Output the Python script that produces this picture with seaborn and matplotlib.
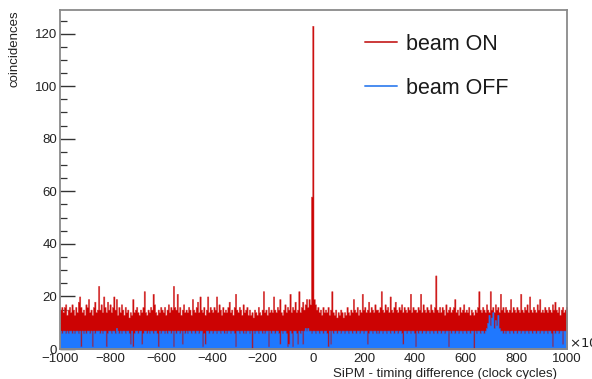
import numpy as np
import pandas as pd
import matplotlib
matplotlib.use("Agg")
import matplotlib.pyplot as plt
import seaborn as sns
from matplotlib.lines import Line2D
from matplotlib.ticker import MultipleLocator

# ---- data: counts per 5-clock-cycle bin from -1000 to 1000 (400 bins) ----
bin_start, bin_stop, bin_width = -1000, 1000, 5

beam_on = [
    15, 16, 14, 16, 17, 13, 15, 16, 14, 17,
    15, 13, 16, 14, 18, 20, 16, 14, 15, 13,
    17, 16, 19, 14, 15, 13, 16, 18, 14, 15,
    24, 15, 17, 14, 20, 16, 14, 18, 15, 17,
    14, 16, 20, 15, 19, 13, 16, 14, 17, 15,
    13, 16, 14, 15, 12, 14, 13, 19, 14, 15,
    16, 14, 13, 15, 14, 16, 22, 14, 13, 15,
    14, 16, 15, 21, 17, 14, 13, 15, 14, 16,
    15, 14, 16, 13, 15, 17, 14, 16, 15, 24,
    16, 15, 21, 14, 16, 13, 15, 17, 14, 15,
    14, 16, 15, 13, 19, 15, 14, 16, 18, 14,
    20, 15, 14, 16, 13, 15, 20, 14, 16, 15,
    14, 16, 15, 20, 14, 17, 15, 13, 16, 14,
    15, 14, 16, 18, 14, 15, 13, 16, 21, 15,
    14, 16, 15, 13, 17, 14, 15, 16, 13, 15,
    13, 14, 12, 15, 14, 13, 16, 14, 13, 15,
    22, 14, 15, 13, 16, 14, 15, 14, 20, 15,
    14, 16, 15, 19, 14, 13, 15, 17, 14, 16,
    15, 21, 14, 16, 15, 18, 14, 15, 22, 14,
    16, 18, 15, 17, 19, 16, 19, 17, 58, 123,
    19, 17, 15, 16, 14, 15, 13, 16, 14, 15,
    14, 16, 13, 15, 22, 14, 13, 15, 12, 14,
    13, 15, 14, 12, 14, 13, 16, 14, 13, 15,
    14, 19, 15, 14, 16, 13, 15, 14, 21, 15,
    16, 14, 15, 18, 14, 16, 15, 14, 17, 15,
    15, 14, 16, 22, 15, 14, 17, 15, 16, 14,
    20, 15, 14, 16, 18, 15, 14, 16, 15, 17,
    14, 16, 15, 14, 16, 15, 21, 14, 16, 15,
    15, 14, 16, 15, 21, 14, 17, 15, 14, 16,
    15, 14, 17, 15, 14, 16, 28, 15, 14, 16,
    14, 16, 15, 13, 17, 14, 15, 16, 14, 15,
    16, 19, 14, 15, 13, 16, 14, 15, 17, 14,
    15, 14, 16, 13, 15, 14, 13, 15, 14, 16,
    22, 15, 14, 16, 15, 14, 17, 15, 14, 22,
    15, 16, 14, 17, 15, 16, 14, 21, 15, 16,
    14, 16, 15, 14, 15, 19, 14, 16, 15, 14,
    16, 15, 14, 21, 15, 14, 16, 15, 17, 14,
    20, 15, 14, 16, 15, 14, 17, 15, 19, 14,
    15, 14, 16, 15, 14, 16, 15, 14, 17, 15,
    18, 15, 14, 16, 13, 15, 16, 14, 15, 16,
]

beam_off = [
    7, 6, 7, 7, 6, 7, 6, 7, 7, 6,
    7, 6, 7, 7, 6, 7, 1, 7, 6, 7,
    6, 7, 7, 6, 7, 1, 7, 6, 7, 7,
    7, 6, 7, 6, 7, 7, 1, 6, 7, 7,
    6, 7, 7, 6, 8, 7, 6, 7, 6, 7,
    7, 6, 7, 7, 6, 2, 7, 1, 6, 7,
    7, 6, 7, 7, 2, 6, 7, 7, 6, 7,
    6, 7, 7, 6, 7, 7, 6, 1, 7, 6,
    7, 7, 6, 7, 6, 7, 7, 6, 7, 1,
    7, 6, 7, 7, 6, 7, 2, 7, 6, 7,
    6, 7, 7, 6, 7, 7, 6, 7, 7, 6,
    7, 7, 1, 6, 2, 7, 7, 6, 7, 7,
    6, 7, 7, 6, 7, 7, 6, 7, 7, 6,
    7, 6, 7, 7, 6, 7, 7, 6, 1, 7,
    7, 6, 7, 7, 6, 7, 6, 7, 7, 6,
    7, 0, 7, 6, 7, 7, 6, 7, 7, 6,
    7, 6, 7, 7, 1, 7, 6, 7, 7, 6,
    7, 7, 6, 2, 7, 6, 7, 7, 6, 1,
    2, 7, 6, 1, 7, 7, 6, 2, 7, 6,
    7, 2, 7, 8, 7, 8, 7, 7, 6, 7,
    7, 6, 7, 7, 6, 7, 7, 6, 7, 7,
    6, 1, 7, 2, 7, 6, 7, 7, 6, 7,
    7, 6, 7, 7, 6, 7, 7, 6, 7, 7,
    6, 7, 7, 6, 7, 7, 6, 7, 7, 6,
    7, 7, 2, 6, 7, 7, 6, 7, 7, 6,
    7, 6, 7, 7, 6, 7, 7, 6, 7, 7,
    6, 7, 7, 6, 7, 7, 6, 7, 7, 6,
    2, 7, 7, 6, 7, 7, 6, 7, 7, 6,
    1, 7, 6, 7, 7, 6, 7, 7, 6, 7,
    7, 6, 7, 7, 6, 7, 7, 6, 7, 7,
    6, 7, 7, 6, 7, 7, 1, 7, 6, 7,
    7, 6, 7, 7, 6, 7, 7, 6, 7, 7,
    6, 7, 7, 6, 7, 7, 0, 7, 6, 7,
    7, 6, 7, 7, 6, 7, 8, 10, 13, 9,
    12, 14, 8, 11, 9, 13, 8, 7, 7, 6,
    7, 6, 7, 7, 6, 7, 7, 6, 7, 7,
    6, 7, 7, 6, 7, 7, 6, 7, 7, 6,
    7, 7, 6, 7, 7, 6, 7, 7, 6, 7,
    7, 6, 7, 7, 6, 7, 7, 6, 1, 7,
    6, 7, 7, 6, 7, 7, 2, 7, 7, 7,
]

series_labels = ["beam ON", "beam OFF"]
x_title = "SiPM - timing difference (clock cycles)"
y_title = "coincidences"
x_ticks = [-1000, -800, -600, -400, -200, 0, 200, 400, 600, 800, 1000]
y_ticks = [0, 20, 40, 60, 80, 100, 120]

# ---- build table ----
edges = np.arange(bin_start, bin_stop + bin_width, bin_width, dtype=float)
centers = (edges[:-1] + edges[1:]) / 2
df_on = pd.DataFrame({"x": centers, "w": np.array(beam_on, dtype=float)})
df_off = pd.DataFrame({"x": centers, "w": np.array(beam_off, dtype=float)})

sns.set_theme(style="white")
plt.rcParams["font.family"] = ["Liberation Sans", "DejaVu Sans"]

W, H = 592, 379
fig = plt.figure(figsize=(W / 100, H / 100), dpi=100)
ax = fig.add_axes([60 / W, 1 - 349 / H, (567 - 60) / W, (349 - 10) / H])

RED_FILL = "#cc0303"
RED_EDGE = "#d43c3c"
BLUE_FILL = "#1f78ff"
BLUE_EDGE = "#3a62d0"

sns.histplot(data=df_on, x="x", weights="w", binwidth=bin_width,
             binrange=(bin_start, bin_stop), element="step",
             fill=True, color=RED_FILL, alpha=1.0, edgecolor=RED_EDGE,
             linewidth=0.35, ax=ax, zorder=1)
sns.histplot(data=df_off, x="x", weights="w", binwidth=bin_width,
             binrange=(bin_start, bin_stop), element="step",
             fill=True, color=BLUE_FILL, alpha=1.0, edgecolor=BLUE_EDGE,
             linewidth=0.4, ax=ax, zorder=2)

ax.set_xlim(-1000, 1000)
ax.set_ylim(0, 129)
ax.set_xticks(x_ticks)
ax.set_yticks(y_ticks)
ax.yaxis.set_minor_locator(MultipleLocator(5))
ax.tick_params(axis="y", which="major", direction="in", length=11, width=1.0,
               color="#333333", labelsize=9.5, pad=2, left=True)
ax.tick_params(axis="y", which="minor", direction="in", length=5, width=0.9,
               color="#333333", left=True)
ax.tick_params(axis="x", which="both", length=0, labelsize=9.5, pad=3)
ax.set_xticklabels([f"{t}".replace("-", "\u2212") for t in x_ticks])
for lab in ax.get_xticklabels() + ax.get_yticklabels():
    lab.set_color("#222222")

for s in ax.spines.values():
    s.set_color("#8a8a8a")
    s.set_linewidth(1.3)

ax.set_xlabel(x_title, fontsize=9.5, color="#222222", ha="right")
ax.xaxis.set_label_coords((557 - 60) / 507, -0.056)
ax.set_ylabel(y_title, fontsize=9.5, color="#222222", ha="right")
ax.yaxis.set_label_coords(-0.077, 1.0)

ax.text(1.003, 0.018, r"$\times10^{3}$", transform=ax.transAxes, fontsize=9.5,
        ha="left", va="center", color="#222222")

handles = [Line2D([0], [0], color="#cc3a3a", lw=1.4),
           Line2D([0], [0], color="#4a8cf0", lw=1.4)]
leg = fig.legend(handles, series_labels, loc="upper left",
                 bbox_to_anchor=(365 / W, 1 - 34 / H), frameon=False,
                 fontsize=15.5, handlelength=1.5, handletextpad=0.4,
                 labelspacing=1.05, borderpad=0, borderaxespad=0)
for t in leg.get_texts():
    t.set_color("#1a1a1a")

fig.savefig("out.png", dpi=100)
